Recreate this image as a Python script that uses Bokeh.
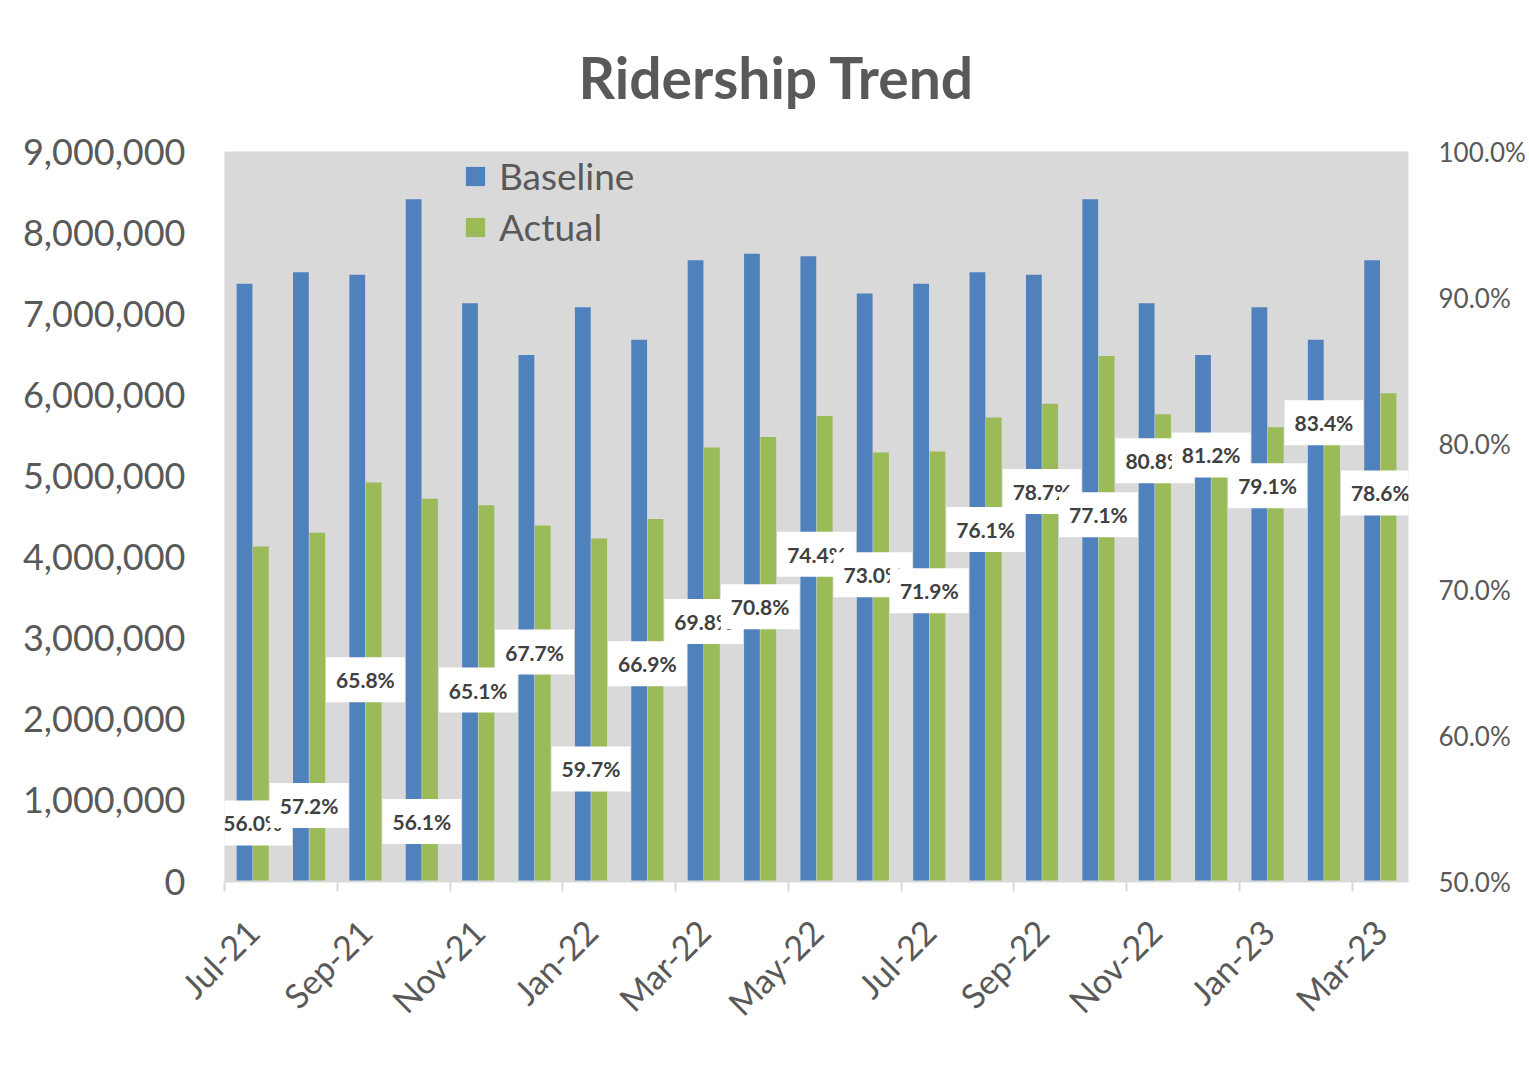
from bokeh.plotting import figure
from bokeh.models import (Range1d, LinearAxis, FixedTicker, NumeralTickFormatter,
                          ColumnDataSource, Legend, LegendItem, Title)
from bokeh.transform import dodge
from bokeh.core.properties import value
from bokeh.embed import file_html
from bokeh.resources import INLINE

months = ["Jul-21", "Aug-21", "Sep-21", "Oct-21", "Nov-21", "Dec-21", "Jan-22",
          "Feb-22", "Mar-22", "Apr-22", "May-22", "Jun-22", "Jul-22", "Aug-22",
          "Sep-22", "Oct-22", "Nov-22", "Dec-22", "Jan-23", "Feb-23", "Mar-23"]
baseline = [7370000, 7510000, 7480000, 8410000, 7130000, 6490000, 7080000,
            6680000, 7660000, 7740000, 7710000, 7250000, 7370000, 7510000,
            7480000, 8410000, 7130000, 6490000, 7080000, 6680000, 7660000]
actual = [4130000, 4300000, 4920000, 4720000, 4640000, 4390000, 4230000,
          4470000, 5350000, 5480000, 5740000, 5290000, 5300000, 5720000,
          5890000, 6480000, 5760000, 5270000, 5600000, 5570000, 6020000]
pct = [56.0, 57.2, 65.8, 56.1, 65.1, 67.7, 59.7, 66.9, 69.8, 70.8, 74.4,
       73.0, 71.9, 76.1, 78.7, 77.1, 80.8, 81.2, 79.1, 83.4, 78.6]
left_ticks = [0, 1000000, 2000000, 3000000, 4000000, 5000000, 6000000,
              7000000, 8000000, 9000000]
right_ticks = [0.5, 0.6, 0.7, 0.8, 0.9, 1.0]
title_text = "Ridership Trend"

FONT = "Lato"
GRAY = "#595959"

idx = [i + 0.5 for i in range(len(months))]
src = ColumnDataSource(dict(x=idx, month=months, baseline=baseline, actual=actual,
                            ratio=[v / 100 for v in pct],
                            label=["%.1f%%" % v for v in pct]))

p = figure(width=1529, height=1058, output_backend="svg", toolbar_location=None,
           x_range=Range1d(0, len(months)), y_range=Range1d(0, 9000000),
           min_border_left=224, min_border_right=121, min_border_top=151,
           min_border_bottom=177, background_fill_color="#D9D9D9",
           border_fill_color="white", outline_line_color=None)
p.extra_y_ranges = {"pct": Range1d(0.5, 1.0)}

p.title = Title(text=title_text, text_font=FONT, text_font_size="57px",
                text_font_style="bold", text_color=GRAY, align="left",
                offset=354, standoff=81)

b = p.vbar(x=dodge("x", -0.145, range=p.x_range), top="baseline", width=0.28,
           source=src, fill_color="#4F81BD", line_color=None)
a = p.vbar(x=dodge("x", 0.145, range=p.x_range), top="actual", width=0.28,
           source=src, fill_color="#9BBB59", line_color=None)

p.text(x="x", y="ratio", text="label", y_range_name="pct", source=src,
       text_font=value(FONT), text_font_size="21px", text_font_style="bold",
       text_color="#404040", text_align="center", text_baseline="middle",
       y_offset=29, background_fill_color="white", padding=10)

p.xgrid.visible = False
p.ygrid.visible = False

# x axis
xa = p.xaxis[0]
xa.ticker = FixedTicker(ticks=idx[::2], minor_ticks=[i for i in range(0, len(months), 2)])
xa.major_label_overrides = {idx[i]: months[i] for i in range(0, len(months), 2)}
xa.major_label_orientation = 0.785398
xa.major_label_text_font = FONT
xa.major_label_text_font_size = "34px"
xa.major_label_text_color = GRAY
xa.major_tick_out = 0
xa.major_tick_in = 0
xa.minor_tick_out = 10
xa.minor_tick_in = 0
xa.minor_tick_line_color = "#D9D9D9"
xa.minor_tick_line_width = 2
xa.axis_line_color = "#D9D9D9"
xa.axis_line_width = 2
xa.major_label_standoff = 34

# left axis
ya = p.yaxis[0]
ya.ticker = FixedTicker(ticks=left_ticks)
ya.formatter = NumeralTickFormatter(format="0,0")
ya.major_label_text_font = FONT
ya.major_label_text_font_size = "36px"
ya.major_label_text_color = GRAY
ya.axis_line_color = None
ya.major_tick_line_color = None
ya.minor_tick_line_color = None
ya.major_tick_out = 0
ya.major_tick_in = 0
ya.minor_tick_out = 0
ya.minor_tick_in = 0
ya.major_label_standoff = 39

# right axis
ra = LinearAxis(y_range_name="pct", ticker=FixedTicker(ticks=right_ticks),
                formatter=NumeralTickFormatter(format="0.0%"))
ra.major_label_text_font = FONT
ra.major_label_text_font_size = "26px"
ra.major_label_text_color = GRAY
ra.axis_line_color = None
ra.major_tick_line_color = None
ra.minor_tick_line_color = None
ra.major_tick_out = 0
ra.major_tick_in = 0
ra.minor_tick_out = 0
ra.minor_tick_in = 0
ra.major_label_standoff = 30
p.add_layout(ra, "right")

legend = Legend(items=[LegendItem(label="Baseline", renderers=[b]),
                       LegendItem(label="Actual", renderers=[a])],
                location=(239, 632), background_fill_alpha=0, border_line_color=None,
                label_text_font=FONT, label_text_font_size="37px",
                label_text_color=GRAY, glyph_width=24, glyph_height=24,
                label_height=44, spacing=6, label_standoff=12, padding=2)
p.add_layout(legend)

open("out.html", "w").write(file_html(p, INLINE))
